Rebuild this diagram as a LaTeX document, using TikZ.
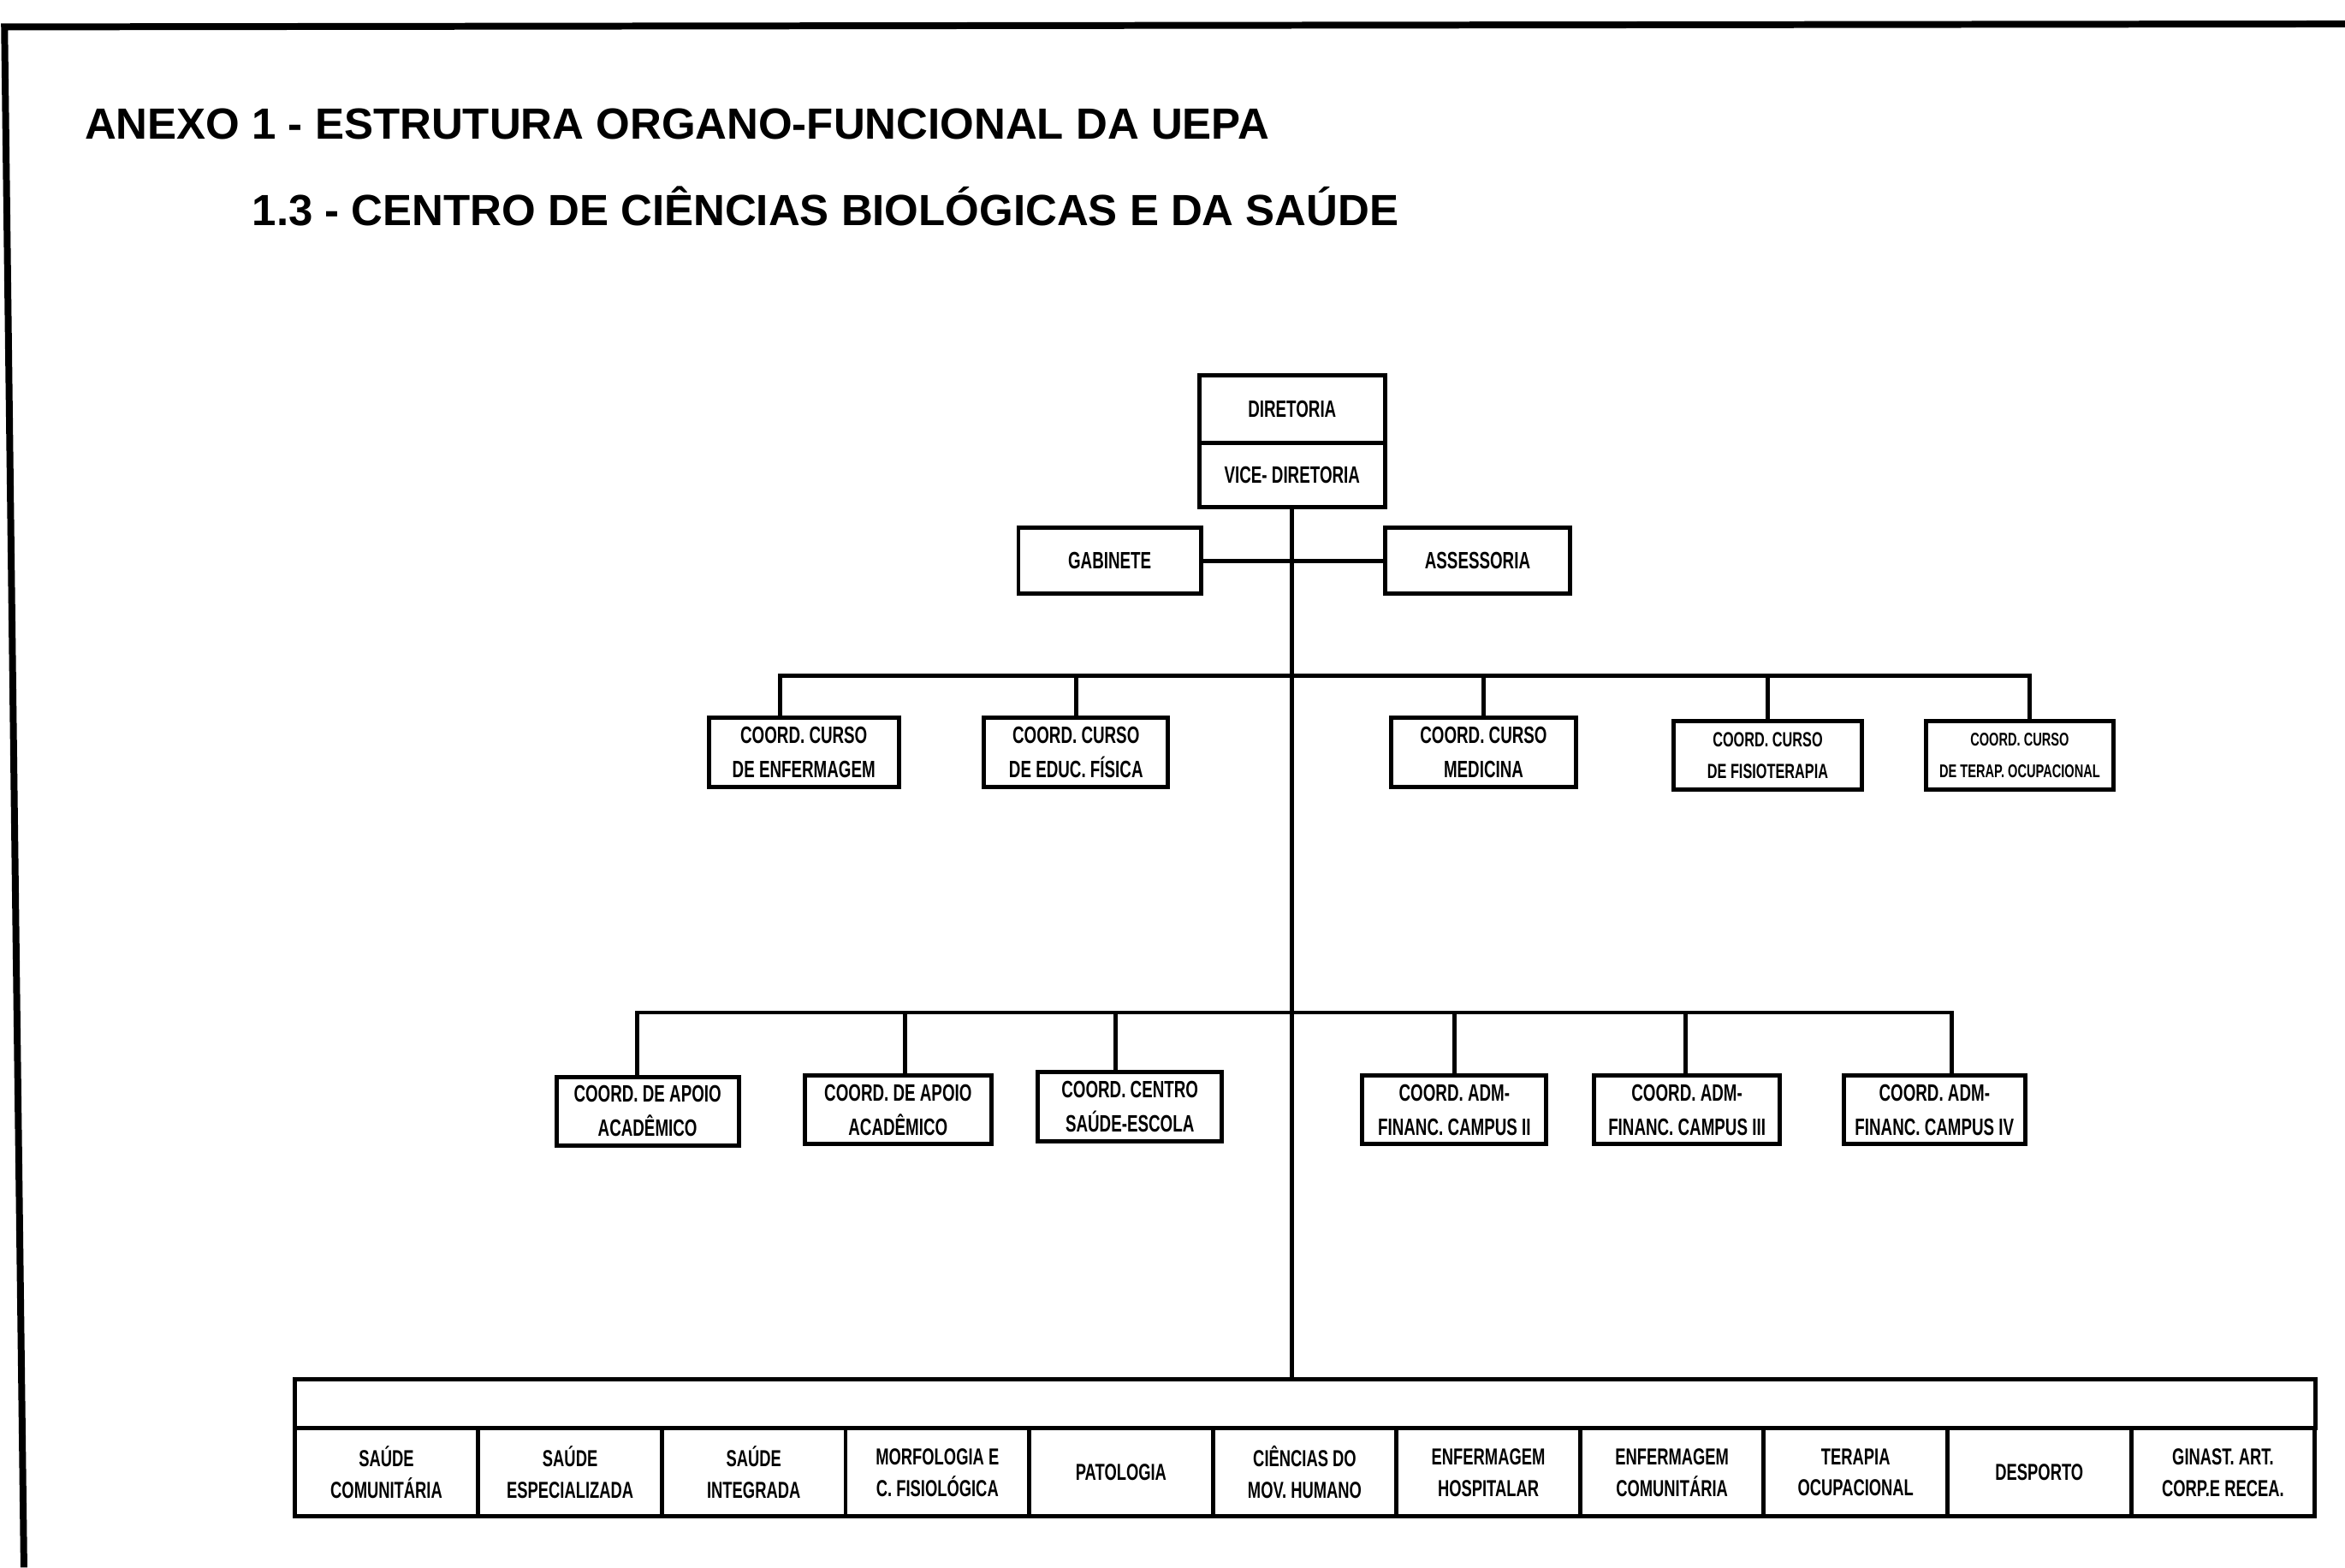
\documentclass[tikz,border=0pt]{standalone}
\usepackage{fontspec}
\setmainfont{Liberation Sans}
\newfontfamily\boxfont[FakeStretch=0.68]{Liberation Sans Bold}
\usepackage{tikz}
\usetikzlibrary{arrows.meta}

\begin{document}
\begin{tikzpicture}[x=0.1mm, y=-0.1mm,
		unit/.style={draw, line width=0.8pt, inner sep=0pt, align=center, minimum height=4.6mm, font=\boxfont\fontsize{4.5}{6.5}\selectfont},
		dept/.style={draw, line width=0.8pt, inner sep=0pt, align=center, minimum width=12.28mm, minimum height=5.9mm, font=\boxfont\fontsize{4.4}{6}\selectfont},
		link/.style={line width=0.8pt}]
			\useasboundingbox (0,0) rectangle (1568,1048);
			% 页面边框
			\draw[line width=1.3pt] (16,1048) -- (3,18) -- (1568,16);
			% 标题
			\node[anchor=west, inner sep=0pt, font=\bfseries\fontsize{8.3}{10}\selectfont] (title) at (56,83) {ANEXO 1 - ESTRUTURA ORGANO-FUNCIONAL DA UEPA};
			\node[anchor=west, inner sep=0pt, font=\bfseries\fontsize{8.3}{10}\selectfont] (subtitle) at (168,138) {1.3 - CENTRO DE CIÊNCIAS BIOLÓGICAS E DA SAÚDE};
			% 领导
			\node[unit, minimum width=12.4mm, minimum height=4.5mm] (dir) at (864,273.5) {DIRETORIA};
			\node[unit, minimum width=12.4mm, minimum height=4.3mm] (vice) at (864,317.5) {VICE- DIRETORIA};
			\node[unit, minimum width=12.2mm, minimum height=4.4mm] (gab) at (742,375) {GABINETE};
			\node[unit, minimum width=12.4mm, minimum height=4.4mm] (ass) at (988,375) {ASSESSORIA};
			% 课程协调
			\node[unit, minimum width=12.7mm] (enf) at (537.5,503) {COORD. CURSO\\DE ENFERMAGEM};
			\node[unit, minimum width=12.3mm] (educ) at (719.5,503) {COORD. CURSO\\DE EDUC. FÍSICA};
			\node[unit, minimum width=12.4mm] (med) at (992,503) {COORD. CURSO\\MEDICINA};
			\node[unit, minimum width=12.6mm, font=\boxfont\fontsize{3.9}{6}\selectfont] (fisio) at (1182,505) {COORD. CURSO\\DE FISIOTERAPIA};
			\node[unit, minimum width=12.5mm, font=\boxfont\fontsize{3.5}{6}\selectfont] (to) at (1350.5,505) {COORD. CURSO\\DE TERAP. OCUPACIONAL};
			% 其他协调
			\node[unit, minimum width=12.2mm] (ap1) at (433,743) {COORD. DE APOIO\\ACADÊMICO};
			\node[unit, minimum width=12.5mm] (ap2) at (600.5,742) {COORD. DE APOIO\\ACADÊMICO};
			\node[unit, minimum width=12.3mm] (centro) at (755.5,740) {COORD. CENTRO\\SAÚDE-ESCOLA};
			\node[unit, minimum width=12.3mm] (c2) at (972.5,742) {COORD. ADM-\\FINANC. CAMPUS II};
			\node[unit, minimum width=12.4mm] (c3) at (1128,742) {COORD. ADM-\\FINANC. CAMPUS III};
			\node[unit, minimum width=12.1mm] (c4) at (1293.5,742) {COORD. ADM-\\FINANC. CAMPUS IV};
			% 系表格
			\node[draw, line width=0.8pt, inner sep=0pt, minimum width=135.1mm, minimum height=3.3mm] (tab) at (872.5,938.5) {};
			\foreach \t [count=\i] in {{SAÚDE\\COMUNITÁRIA}, {SAÚDE\\ESPECIALIZADA}, {SAÚDE\\INTEGRADA}, {MORFOLOGIA E\\C. FISIOLÓGICA}, {PATOLOGIA}, {CIÊNCIAS DO\\MOV. HUMANO}, {ENFERMAGEM\\HOSPITALAR}, {ENFERMAGEM\\COMUNITÁRIA}, {TERAPIA\\OCUPACIONAL}, {DESPORTO}, {GINAST. ART.\\CORP.E RECEA.}}
				\node[dept] (col\i) at ({197+122.8*(\i-0.5)},984.5) {\t};
			% 连线
			\coordinate (bus1) at (864,452);
			\coordinate (bus2) at (864,677);
			\draw[link] (vice.south) -- (vice.south |- tab.north);
			\draw[link] (gab.east) -- (ass.west);
			\foreach \n/\dx in {enf/-16, educ/0, med/0, fisio/0, to/6.5}
				\draw[link] ([xshift=\dx*0.1mm]\n.north) |- (bus1);
			\foreach \n/\dx in {ap1/-7, ap2/4.5, centro/-9.5, c2/0, c3/-1, c4/11.5}
				\draw[link] ([xshift=\dx*0.1mm]\n.north) |- (bus2);
		\end{tikzpicture}
\end{document}
